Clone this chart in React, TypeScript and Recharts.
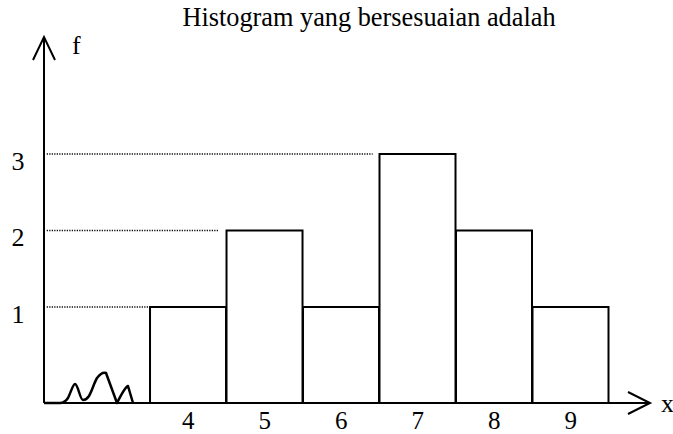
import React from 'react';
import { BarChart, Bar, XAxis, YAxis, ReferenceLine, ReferenceDot } from 'recharts';

// ---- data ----
const categories = [4, 5, 6, 7, 8, 9];
const frequencies = [1, 2, 1, 3, 2, 1];
const yTicks = [1, 2, 3];
const guideLevels = [1, 2, 3];
const guideEnds = [3.5, 4.39, 6.41];
const title = 'Histogram yang bersesuaian adalah';
const xLabel = 'x';
const yLabel = 'f';

const X_DOMAIN: [number, number] = [2.114, 10.036];
const Y_DOMAIN: [number, number] = [-0.255, 4.529];
const GUIDE_START = 2.15;

const FONT = "'Liberation Serif', 'Times New Roman', serif";

const data = categories.map((x, i) => ({
  x,
  f: frequencies[i],
  range: [Y_DOMAIN[0], frequencies[i]],
}));

const XTick = (props: any) => {
  const { x, y, payload } = props;
  return (
    <text x={x} y={y + 26} textAnchor="middle" fontSize={25} fontFamily={FONT} fill="#000">
      {payload.value}
    </text>
  );
};

const YTick = (props: any) => {
  const { x, y, payload } = props;
  return (
    <text x={x - 26} y={y + 16} textAnchor="middle" fontSize={26} fontFamily={FONT} fill="#000">
      {payload.value}
    </text>
  );
};

const XArrow = (props: any) => {
  const { cx, cy } = props;
  return (
    <g>
      <polyline
        points={`${cx - 22},${cy - 11} ${cx},${cy} ${cx - 22},${cy + 11}`}
        fill="none"
        stroke="#000"
        strokeWidth={2}
      />
      <text x={cx + 11} y={cy + 9} fontSize={26} fontFamily={FONT} fill="#000">
        {xLabel}
      </text>
    </g>
  );
};

const YArrow = (props: any) => {
  const { cx, cy } = props;
  return (
    <g>
      <polyline
        points={`${cx - 11},${cy + 23} ${cx},${cy} ${cx + 11},${cy + 23}`}
        fill="none"
        stroke="#000"
        strokeWidth={2}
      />
      <text x={cx + 28} y={cy + 17} fontSize={26} fontFamily={FONT} fill="#000">
        {yLabel}
      </text>
    </g>
  );
};

const Squiggle = (props: any) => {
  const { cx, cy } = props;
  const d =
    'M0,0 L16,0 C20,0 22,-2 24,-5 C27,-11 29,-19 31,-19 C34,-19 36,-3 39,-3 C42,-3 43,-4 45,-7 ' +
    'C48,-12 50,-20 53,-25 C56,-29 59,-31 62,-30 L73,0 C77,-8 81,-16 84,-17 L89,0';
  return (
    <path
      d={d}
      transform={`translate(${cx},${cy})`}
      fill="none"
      stroke="#000"
      strokeWidth={2.5}
      strokeLinejoin="round"
    />
  );
};

export default function App() {
  return (
    <div style={{ position: 'absolute', left: 0, top: 0, width: 673, height: 434, background: '#fff' }}>
      <div
        style={{
          position: 'absolute',
          left: 0,
          top: 5,
          width: 738,
          textAlign: 'center',
          fontFamily: FONT,
          fontSize: 26.3,
          lineHeight: '26px',
          color: '#000',
          whiteSpace: 'nowrap',
        }}
      >
        {title}
      </div>
      <BarChart
        width={673}
        height={434}
        data={data}
        margin={{ top: 37, right: 23, bottom: 0, left: 0 }}
        barCategoryGap={0}
        barGap={0}
        style={{ position: 'absolute', left: 0, top: 0 }}
      >
        <XAxis
          dataKey="x"
          type="number"
          domain={X_DOMAIN}
          ticks={categories}
          allowDataOverflow
          tickLine={false}
          tickSize={0}
          tickMargin={0}
          axisLine={{ stroke: '#000', strokeWidth: 2 }}
          tick={<XTick />}
          height={31}
        />
        <YAxis
          type="number"
          domain={Y_DOMAIN}
          ticks={yTicks}
          allowDataOverflow
          tickLine={false}
          tickSize={0}
          tickMargin={0}
          axisLine={{ stroke: '#000', strokeWidth: 2 }}
          tick={<YTick />}
          width={44}
        />
        {guideLevels.map((lvl, i) => (
          <ReferenceLine
            key={lvl}
            segment={[
              { x: GUIDE_START, y: lvl },
              { x: guideEnds[i], y: lvl },
            ]}
            stroke="#000"
            strokeWidth={1.4}
            strokeDasharray="1.2 1.3"
            ifOverflow="visible"
          />
        ))}
        <Bar dataKey="range" fill="#fff" stroke="#000" strokeWidth={2} isAnimationActive={false} />
        <ReferenceDot x={X_DOMAIN[0]} y={Y_DOMAIN[0]} shape={Squiggle} ifOverflow="visible" />
        <ReferenceDot x={X_DOMAIN[1]} y={Y_DOMAIN[0]} shape={XArrow} ifOverflow="visible" />
        <ReferenceDot x={X_DOMAIN[0]} y={Y_DOMAIN[1]} shape={YArrow} ifOverflow="visible" />
      </BarChart>
    </div>
  );
}
